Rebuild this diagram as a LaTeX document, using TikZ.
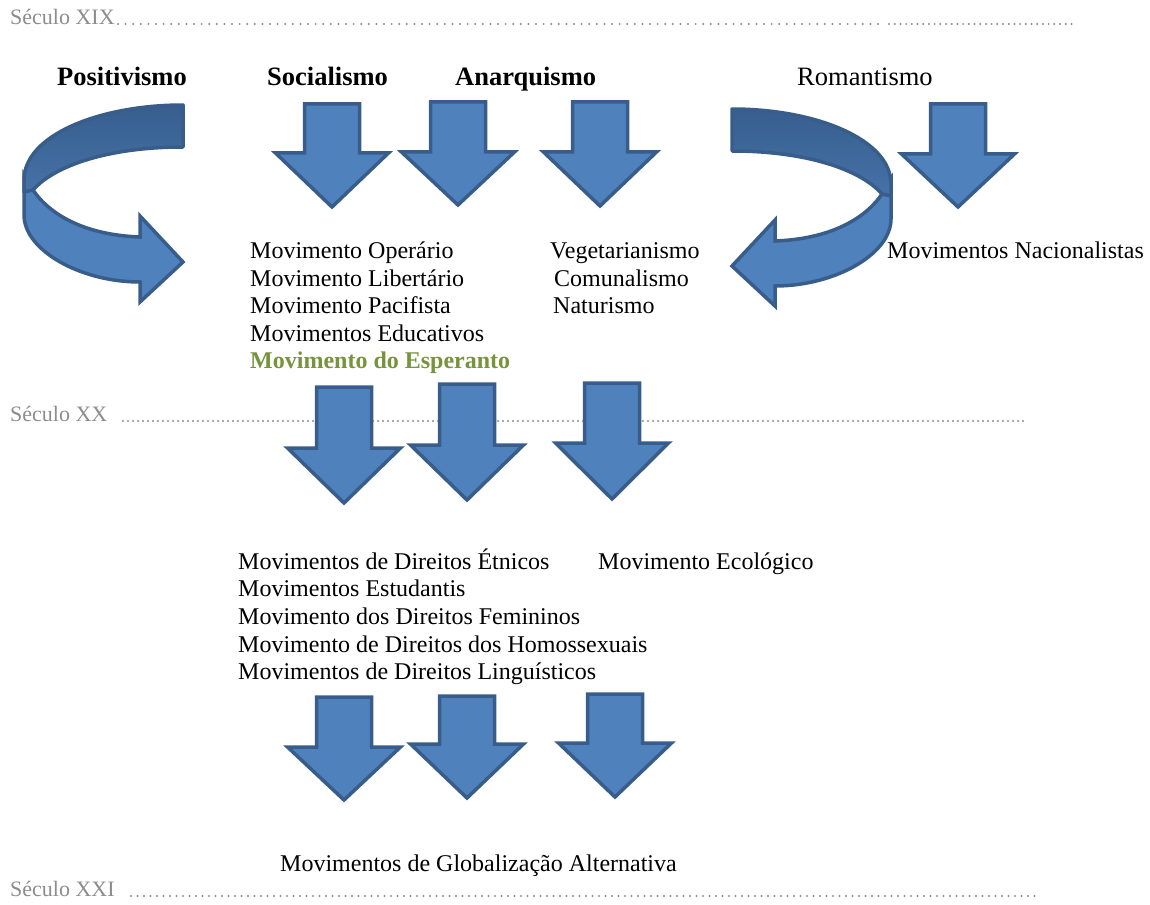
\documentclass[tikz,border=0pt]{standalone}
\usepackage{fontspec}
\setmainfont{Liberation Serif}
\definecolor{afill}{HTML}{4F81BD}
\definecolor{aline}{HTML}{385D8A}
\definecolor{dtop}{HTML}{375E8E}
\definecolor{dbot}{HTML}{4672A8}
\definecolor{sgray}{HTML}{8C8C8C}
\definecolor{egreen}{HTML}{77933C}
\tikzset{
  arrowfill/.style={fill=afill, draw=aline, line width=3.5pt, line join=miter},
  darkband/.style={top color=dtop, bottom color=dbot, draw=aline, line width=3.5pt, line join=round},
  seculo/.style={anchor=base west, inner sep=0pt, text=sgray, font=\fontsize{22}{26}\selectfont},
  head/.style={anchor=base west, inner sep=0pt, font=\fontsize{26.5}{30}\selectfont\bfseries},
  headr/.style={anchor=base west, inner sep=0pt, font=\fontsize{26.5}{30}\selectfont},
  mov/.style={anchor=base west, inner sep=0pt, font=\fontsize{24}{27.5}\selectfont},
  dots/.style={sgray, line width=2.2pt, line cap=round},
}
% down arrow: #1 centre x, #2 top y, #3 wing offset, #4 total height
\newcommand\downarr[4]{%
  \path[arrowfill] (#1-27.5,#2) -- (#1+27.5,#2) -- (#1+27.5,#2+#3) -- (#1+56.5,#2+#3)
    -- (#1,#2+#4) -- (#1-56.5,#2+#3) -- (#1-27.5,#2+#3) -- cycle;}
\newcommand\curvarr{%
  \path[arrowfill] (24,175) -- (24,215) .. controls (24,250) and (80,282) .. (140,282)
    -- (140,302) -- (183,262) -- (140,216) -- (140,237)
    .. controls (85,235) and (50,215) .. (33,190) -- cycle;
  \path[darkband] (183,105) .. controls (100,105) and (24,135) .. (24,180) -- (24,192)
    -- (33,190) .. controls (55,165) and (110,147) .. (183,147) -- cycle;}
\begin{document}
\begin{tikzpicture}[x=1pt,y=-1pt]
\useasboundingbox (0,0) rectangle (1150,904);
% century lines
\node[seculo] (s19) at (10,25) {Século XIX};
\draw[dots, dash pattern=on 0pt off 7.6pt] (118,24) -- (884,24);
\draw[dots, dash pattern=on 0pt off 5.7pt] (889,24) -- (1074,24);
\node[seculo] (s20) at (10,421) {Século XX};
\draw[dots, dash pattern=on 0pt off 5pt] (123,421) -- (1025,421);
\node[seculo] (s21) at (10,896) {Século XXI};
\draw[dots, dash pattern=on 0pt off 6.5pt] (131,896) -- (1040,896);
% headings
\node[head] (pos) at (57,86) {Positivismo};
\node[head] (soc) at (267,86) {Socialismo};
\node[head] (ana) at (455,86) {Anarquismo};
\node[headr] (rom) at (797,86) {Romantismo};
% curved arrows
\curvarr
\begin{scope}[shift={(915,4)}, xscale=-1]
\curvarr
\end{scope}
% first row arrows
\downarr{332}{104}{49}{103}
\downarr{458}{102}{50}{103}
\downarr{600}{102}{50}{104}
\downarr{958}{104}{50}{103}
% first text block
\node[mov] (m1) at (250,258) {Movimento Operário};
\node[mov] (m2) at (250,286) {Movimento Libertário};
\node[mov] (m3) at (250,313) {Movimento Pacifista};
\node[mov] (m4) at (250,341) {Movimentos Educativos};
\node[mov, text=egreen, font=\fontsize{24}{27.5}\selectfont\bfseries] (m5) at (250,368) {Movimento do Esperanto};
\node[mov] (v1) at (550,258) {Vegetarianismo};
\node[mov] (v2) at (554,286) {Comunalismo};
\node[mov] (v3) at (553,313) {Naturismo};
\node[mov] (nac) at (887,258) {Movimentos Nacionalistas};
% second row arrows
\downarr{344}{387}{61}{116}
\downarr{467}{384}{61}{116}
\downarr{612}{383}{60}{116}
% second text block
\node[mov] (d1) at (238,569) {Movimentos de Direitos Étnicos};
\node[mov] (d2) at (238,596) {Movimentos Estudantis};
\node[mov] (d3) at (238,624) {Movimento dos Direitos Femininos};
\node[mov] (d4) at (238,652) {Movimento de Direitos dos Homossexuais};
\node[mov] (d5) at (238,679) {Movimentos de Direitos Linguísticos};
\node[mov] (eco) at (598,569) {Movimento Ecológico};
% third row arrows
\downarr{344}{697}{50}{103}
\downarr{467}{696}{48}{102}
\downarr{615}{694}{49}{103}
\node[mov] (glob) at (280,871) {Movimentos de Globalização Alternativa};
\end{tikzpicture}
\end{document}
